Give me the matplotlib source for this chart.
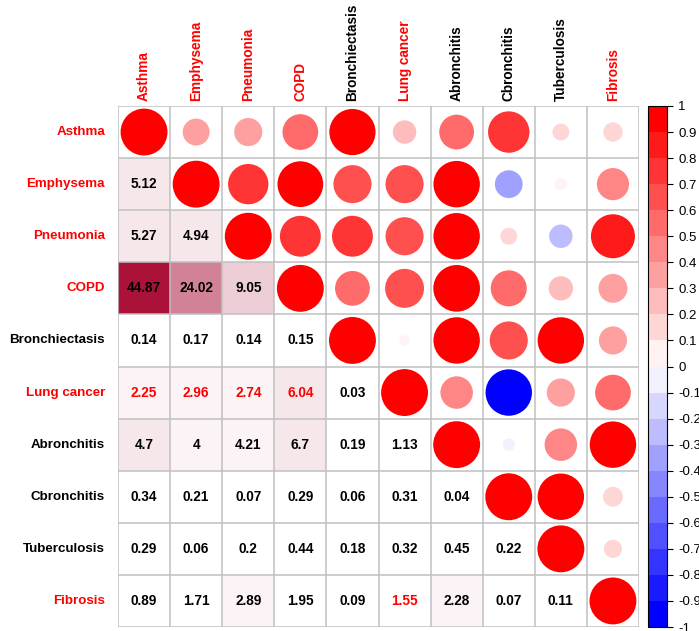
import matplotlib
matplotlib.use("Agg")
import matplotlib.pyplot as plt
from matplotlib.colors import ListedColormap, BoundaryNorm, LinearSegmentedColormap
from matplotlib.patches import Circle
import numpy as np

plt.rcParams['font.family'] = ['Liberation Sans', 'DejaVu Sans']

labels = ["Asthma", "Emphysema", "Pneumonia", "COPD", "Bronchiectasis",
          "Lung cancer", "Abronchitis", "Cbronchitis", "Tuberculosis", "Fibrosis"]
label_colors = ["red", "red", "red", "red", "black",
                "red", "black", "black", "black", "red"]

# upper triangle (incl. diagonal): correlation, row by row
corr_upper = [
    [1.00, 0.33, 0.36, 0.58, 0.97, 0.25, 0.55, 0.78, 0.13, 0.17],
    [1.00, 0.74, 0.95, 0.66, 0.66, 0.98, -0.35, 0.07, 0.47],
    [1.00, 0.76, 0.76, 0.66, 0.98, 0.13, -0.25, 0.88],
    [1.00, 0.55, 0.69, 0.99, 0.59, 0.27, 0.38],
    [1.00, 0.05, 0.98, 0.66, 0.98, 0.36],
    [1.00, 0.48, -0.98, 0.36, 0.58],
    [1.00, -0.07, 0.48, 0.98],
    [1.00, 0.98, 0.18],
    [1.00, 0.15],
    [1.00],
]

# lower triangle: values shown as numbers
lower_vals = [
    [],
    [5.12],
    [5.27, 4.94],
    [44.87, 24.02, 9.05],
    [0.14, 0.17, 0.14, 0.15],
    [2.25, 2.96, 2.74, 6.04, 0.03],
    [4.7, 4, 4.21, 6.7, 0.19, 1.13],
    [0.34, 0.21, 0.07, 0.29, 0.06, 0.31, 0.04],
    [0.29, 0.06, 0.2, 0.44, 0.18, 0.32, 0.45, 0.22],
    [0.89, 1.71, 2.89, 1.95, 0.09, 1.55, 2.28, 0.07, 0.11],
]
lower_strs = [
    [],
    ["5.12"],
    ["5.27", "4.94"],
    ["44.87", "24.02", "9.05"],
    ["0.14", "0.17", "0.14", "0.15"],
    ["2.25", "2.96", "2.74", "6.04", "0.03"],
    ["4.7", "4", "4.21", "6.7", "0.19", "1.13"],
    ["0.34", "0.21", "0.07", "0.29", "0.06", "0.31", "0.04"],
    ["0.29", "0.06", "0.2", "0.44", "0.18", "0.32", "0.45", "0.22"],
    ["0.89", "1.71", "2.89", "1.95", "0.09", "1.55", "2.28", "0.07", "0.11"],
]
red_cells = [(5, 0), (5, 1), (5, 2), (5, 3), (9, 5)]

n = len(labels)

# colour scales
corr_cols = LinearSegmentedColormap.from_list("bwr2", ["blue", "white", "red"])(np.linspace(0, 1, 20))
corr_cmap = ListedColormap(corr_cols)
corr_norm = BoundaryNorm(np.linspace(-1, 1, 21), 20)

val_cols = LinearSegmentedColormap.from_list("wr", ["white", "#AA1239"])(np.linspace(0, 1, 20))
val_cmap = ListedColormap(val_cols)
val_norm = BoundaryNorm(np.linspace(0, 45, 21), 20)

W, H = 699, 631
fig = plt.figure(figsize=(W / 100, H / 100), dpi=100)
x0, x1, y0, y1 = 118, 639, 106, 627
ax = fig.add_axes([x0 / W, 1 - y1 / H, (x1 - x0) / W, (y1 - y0) / H])

# lower triangle shading
grid = np.full((n, n), np.nan)
for i in range(n):
    for j, v in enumerate(lower_vals[i]):
        grid[i, j] = v
ax.pcolormesh(np.arange(n + 1), np.arange(n + 1), np.ma.masked_invalid(grid),
              cmap=val_cmap, norm=val_norm)

for i in range(n):
    for j, s in enumerate(lower_strs[i]):
        c = "red" if (i, j) in red_cells else "black"
        ax.text(j + 0.5, i + 0.5, s, ha="center", va="center",
                fontsize=9.8, fontweight="bold", color=c)

# upper triangle circles
for i in range(n):
    for k, r in enumerate(corr_upper[i]):
        j = i + k
        ax.add_patch(Circle((j + 0.5, i + 0.5), 0.45 * np.sqrt(abs(r)),
                            facecolor=corr_cmap(corr_norm(r)), edgecolor="none", zorder=2))

for p in range(n + 1):
    ax.axhline(p, color="#C0C0C0", lw=1.1, zorder=3)
    ax.axvline(p, color="#C0C0C0", lw=1.1, zorder=3)

ax.set_xlim(0, n)
ax.set_ylim(n, 0)
ax.set_xticks([])
ax.set_yticks([])
for s in ax.spines.values():
    s.set_visible(False)

for k, lab in enumerate(labels):
    ax.text(k + 0.5, -0.1, lab, rotation=90, ha="center", va="bottom",
            fontsize=9.8, fontweight="bold", color=label_colors[k])
    ax.text(-0.25, k + 0.5, lab, ha="right", va="center",
            fontsize=9.6, fontweight="bold", color=label_colors[k])

# colour legend
cax = fig.add_axes([648 / W, 1 - y1 / H, 19 / W, (y1 - y0) / H])
sm = plt.cm.ScalarMappable(cmap=corr_cmap, norm=corr_norm)
cb = fig.colorbar(sm, cax=cax, boundaries=np.linspace(-1, 1, 21))
ticks = np.round(np.linspace(-1, 1, 21), 1)
cb.set_ticks(ticks)
cb.set_ticklabels(["%g" % t if t != 0 else "0" for t in ticks])
cb.outline.set_linewidth(0.8)
cax.tick_params(labelsize=9.5, length=4, width=0.8, pad=4)

fig.savefig("out.png", dpi=100)
